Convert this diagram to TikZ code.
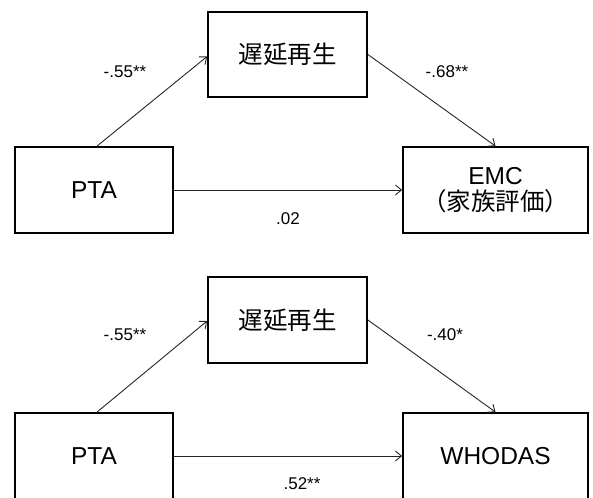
\documentclass[tikz,border=0pt]{standalone}
\usepackage{fontspec}
\setmainfont{Liberation Sans}
\newfontfamily\jpfont{Noto Sans CJK JP}
\usetikzlibrary{arrows.meta}
\tikzset{
  box/.style={draw=black, line width=1.8pt, rectangle, inner sep=0pt, align=center, font=\fontsize{24.5}{29}\selectfont},
  conn/.style={draw=black!85, line width=0.9pt, -{Straight Barb[length=6pt,width=10pt,line width=0.9pt]}},
  coef/.style={font=\fontsize{17}{20}\selectfont, inner sep=0pt}
}
\begin{document}
\begin{tikzpicture}[x=1pt,y=-1pt]
\useasboundingbox (0,0) rectangle (593,497);
\clip (0,0) rectangle (593,497);
% top model
\node[box, minimum width=159pt, minimum height=85pt] (m1) at (287.5,54.5) {\jpfont 遅延再生};
\node[box, minimum width=158pt, minimum height=86pt] (x1) at (94,190) {PTA};
\node[box, minimum width=185pt, minimum height=86pt] (y1) at (495.5,190) {EMC\\[-3pt]{\jpfont （家族評価）}};
\draw[conn] ([xshift=3pt]x1.north) -- ([yshift=-2pt]m1.west);
\draw[conn] (m1.east) -- (y1.north);
\draw[conn] (x1.east) -- (y1.west);
\node[coef] (a1) at (125,72) {-.55**};
\node[coef] (b1) at (447,72) {-.68**};
\node[coef] (c1) at (288,219) {.02};
% bottom model
\node[box, minimum width=159pt, minimum height=86pt] (m2) at (287.5,320) {\jpfont 遅延再生};
\node[box, minimum width=158pt, minimum height=86pt] (x2) at (94,456) {PTA};
\node[box, minimum width=185pt, minimum height=86pt] (y2) at (495.5,456) {WHODAS};
\draw[conn] ([xshift=3pt]x2.north) -- ([yshift=-1pt]m2.west);
\draw[conn] (m2.east) -- (y2.north);
\draw[conn] (x2.east) -- (y2.west);
\node[coef] (a2) at (125,335) {-.55**};
\node[coef] (b2) at (445,335) {-.40*};
\node[coef] (c2) at (302,484) {.52**};
\end{tikzpicture}
\end{document}
